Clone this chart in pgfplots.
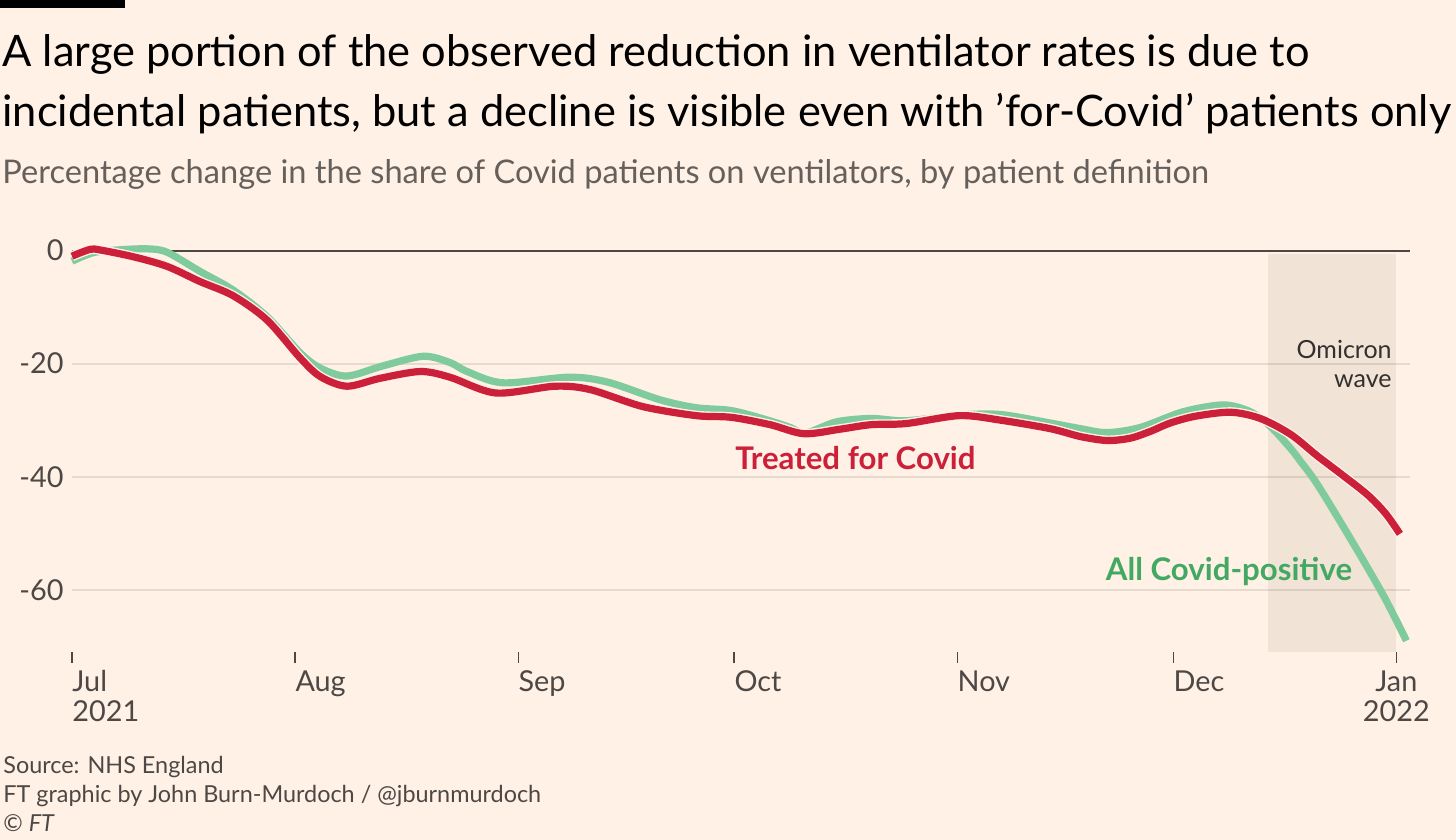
\documentclass[border=0pt]{standalone}
\usepackage{fontspec}
\setmainfont{Lato}
\usepackage{pgfplots}
\usepackage{pgfplotstable}
\pgfplotsset{compat=1.18}

\definecolor{ftbg}{HTML}{FFF1E5}
\definecolor{ftsub}{HTML}{66605C}
\definecolor{fttick}{HTML}{4D4845}
\definecolor{ftdark}{HTML}{33302E}
\definecolor{ftgrid}{HTML}{E6D9CE}
\definecolor{ftred}{RGB}{204,32,58}
\definecolor{ftgreen}{RGB}{128,203,158}
\definecolor{ftgreentxt}{RGB}{66,168,98}
\definecolor{ftshade}{RGB}{110,90,70}

% day 0 = 1 Jul 2021
\pgfplotstableread{
day val
0 -1.0
2.5 0.2
3.9 0.1
8.5 -1.1
13.2 -2.8
17.8 -5.5
22.4 -8.0
27.1 -12.3
31.7 -19.0
34.5 -22.3
38.2 -24.0
42.8 -22.6
48.4 -21.4
52.5 -22.4
58.9 -25.2
67.1 -24.0
72.0 -24.6
79.3 -27.6
86.7 -29.2
91.6 -29.5
97.0 -30.8
101.7 -32.4
106.7 -31.6
111.0 -30.8
115.9 -30.6
123.3 -29.2
129.0 -30.0
135.9 -31.5
140.1 -32.9
143.8 -33.6
147.0 -33.2
149.8 -32.0
152.6 -30.5
156.1 -29.3
161.0 -28.6
165.1 -29.7
169.3 -32.5
173.0 -36.3
176.2 -39.4
180.0 -43.2
182.5 -46.5
184.5 -50.1
}\treated

\pgfplotstableread{
day val
0 -1.9
2.9 -0.4
6.3 0.1
10.4 0.3
13.2 -0.3
17.8 -3.7
22.4 -7.0
27.1 -11.7
31.7 -18.1
34.5 -20.8
38.2 -22.2
43.2 -20.4
48.8 -18.7
52.5 -19.8
54.9 -21.4
59.9 -23.4
69.1 -22.4
74.5 -23.3
81.7 -26.4
86.7 -27.8
91.6 -28.3
96.4 -29.9
99.8 -31.3
101.9 -32.3
106.2 -30.3
111.0 -29.7
115.9 -30.1
123.3 -29.1
129.0 -29.0
135.9 -30.5
140.1 -31.5
143.8 -32.2
148.4 -31.3
154.4 -28.5
160.0 -27.3
163.7 -28.5
166.5 -31.1
169.3 -35.0
170.7 -37.3
173.0 -41.3
177.6 -50.9
182.2 -61.0
185.4 -69.0
}\allpos

\begin{document}
\begin{tikzpicture}[x=0.5pt,y=0.5pt]
\useasboundingbox (0,0) rectangle (1456,840);
\fill[ftbg] (0,0) rectangle (1456,840);
\fill[black] (0,832) rectangle (125,840);

\node[anchor=base west, inner sep=0, font=\fontsize{21.7}{25}\selectfont] at (2,773)
  {A large portion of the observed reduction in ventilator rates is due to};
\node[anchor=base west, inner sep=0, font=\fontsize{21.7}{25}\selectfont] at (2,713)
  {incidental patients, but a decline is visible even with ’for-Covid’ patients only};
\node[anchor=base west, inner sep=0, text=ftsub, font=\fontsize{16.3}{18}\selectfont] at (2,656)
  {Percentage change in the share of Covid patients on ventilators, by patient definition};

\node[anchor=base west, inner sep=0, text=fttick, font=\fontsize{11.7}{13}\selectfont] at (3,66)
  {Source: NHS England};
\node[anchor=base west, inner sep=0, text=fttick, font=\fontsize{11.7}{13}\selectfont] at (3,37)
  {FT graphic by John Burn-Murdoch / @jburnmurdoch};
\node[anchor=base west, inner sep=0, text=fttick, font=\fontsize{11.7}{13}\selectfont] at (3,8)
  {© \textit{FT}};

\coordinate (plotorigin) at (72,188);
\begin{axis}[
  at={(plotorigin)}, anchor=south west,
  scale only axis, width=669pt, height=206.4pt,
  xmin=0, xmax=185.9, ymin=-71, ymax=2,
  axis line style={draw=none},
  clip=false,
  tick align=outside,
  tick pos=left,
  major tick length=5.5pt,
  x tick style={draw=fttick, line width=0.7pt},
  y tick style={draw=none},
  xtick={0,31,62,92,123,153,184},
  xticklabels={Jul\\2021,Aug,Sep,Oct,Nov,Dec,{}},
  xticklabel style={anchor=north west, align=left, inner sep=0pt, text=fttick,
    font=\fontsize{14.4}{15}\selectfont, yshift=-3.6pt},
  ytick={-60,-40,-20,0},
  yticklabels={-60,-40,-20,0},
  yticklabel style={anchor=east, inner sep=0pt, text=fttick,
    font=\fontsize{14.4}{15}\selectfont, xshift=1.5pt},
  ymajorgrids,
  grid style={ftgrid, line width=1pt},
]
\fill[ftshade, fill opacity=0.09] (axis cs:166.1,-0.6) rectangle (axis cs:184,-71);
\draw[fttick, line width=1pt] (axis cs:0,0) -- (axis cs:185.9,0);

\addplot[ftgreen, line width=3.6pt, smooth, line cap=butt] table[x=day, y=val] {\allpos};
\addplot[ftbg, line width=5pt, smooth] table[x=day, y=val] {\treated};
\addplot[ftred, line width=3.6pt, smooth, line cap=butt] table[x=day, y=val] {\treated};

\node[anchor=west, inner sep=0, text=ftred, font=\fontsize{15.6}{17}\selectfont\bfseries]
  at (axis cs:92.1,-36.7) {Treated for Covid};
\node[anchor=east, inner sep=0, text=ftgreentxt, font=\fontsize{15.6}{17}\selectfont\bfseries]
  at (axis cs:177.9,-56.8) {All Covid-positive};
\node[anchor=north east, align=right, inner sep=0, text=ftdark,
  font=\fontsize{12.5}{14.5}\selectfont] at (axis cs:183.4,-15.8) {Omicron\\wave};
\node[anchor=north, align=center, inner sep=0, text=fttick,
  font=\fontsize{14.4}{15}\selectfont] at (axis cs:184,-71) [yshift=-9.1pt] {Jan\\2022};
\end{axis}
\end{tikzpicture}
\end{document}
